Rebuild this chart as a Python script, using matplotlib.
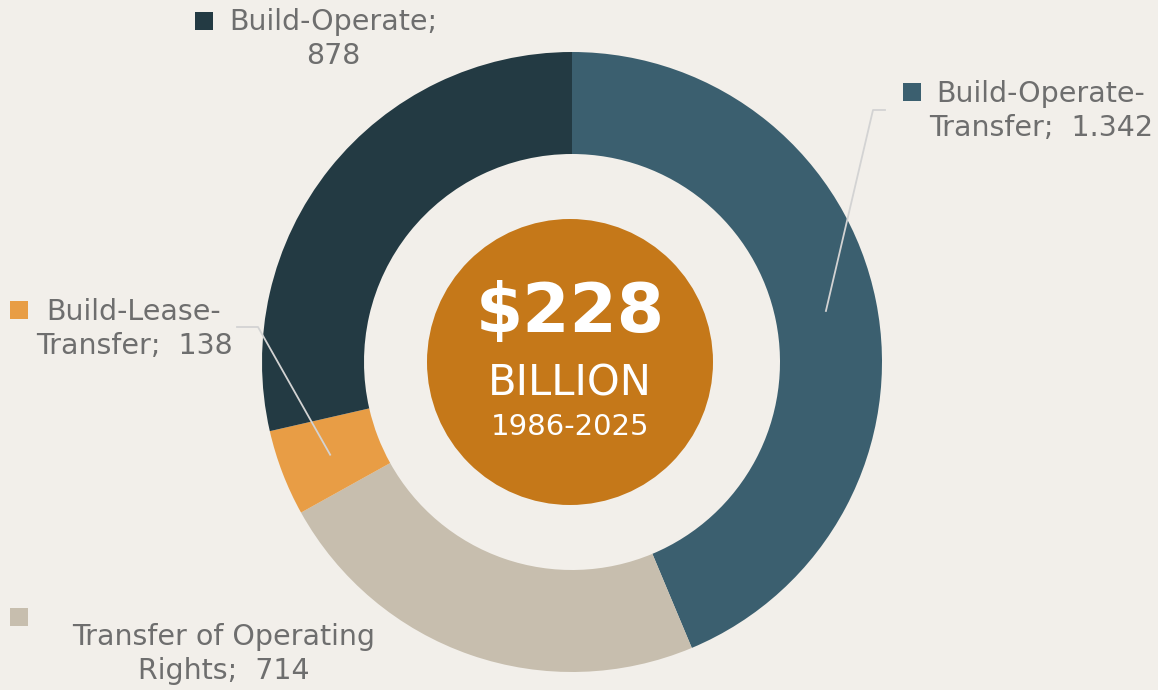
import numpy as np
import matplotlib.pyplot as plt

# Dados do gráfico
categorias = ["Build-Operate-Transfer", "Transfer of Operating Rights",
              "Build-Lease-Transfer", "Build-Operate"]
valores = [1342, 714, 138, 878]
rotulos = ["Build-Operate-\nTransfer;  1.342", "Transfer of Operating\nRights;  714",
           "Build-Lease-\nTransfer;  138", "Build-Operate;\n878"]
cores = ["#3B5F6F", "#C7BEAE", "#E89D45", "#233A43"]

fundo = "#F2EFEA"
cinza = "#6E6E6E"
plt.rcParams['font.family'] = ['DejaVu Sans']

fig = plt.figure(figsize=(11.58, 6.9), dpi=100, facecolor=fundo)
ax = fig.add_axes([0, 0, 1, 1])
ax.set_facecolor(fundo)

cx, cy = 572, 362
r_ext, r_int = 310, 208
wedges, _ = ax.pie(valores, colors=cores, startangle=90, counterclock=False,
                   radius=r_ext, center=(cx, -cy),
                   wedgeprops=dict(width=r_ext - r_int, linewidth=0))

# círculo central
ax.add_patch(plt.Circle((cx - 2, -cy), 143, color="#C57819", lw=0))
ax.text(cx - 2, -313, "$228", ha="center", va="center", color="white",
        fontsize=49, fontweight="bold")
ax.text(cx - 2, -383, "BILLION", ha="center", va="center", color="white", fontsize=30)
ax.text(cx - 2, -427, "1986-2025", ha="center", va="center", color="white", fontsize=21)

# posições dos rótulos (layout)
pos_texto = [(1041, -111), (224, -654), (134, -329), (333, -39)]
pos_marca = [(912, -92), (19, -617), (19, -310), (204, -21)]
for w, txt, (tx, ty), (mx, my), c in zip(wedges, rotulos, pos_texto, pos_marca, cores):
    ax.text(tx, ty, txt, ha="center", va="center", color=cinza, fontsize=20.5,
            linespacing=1.3, multialignment="center")
    ax.scatter([mx], [my], marker="s", s=150, color=c, lw=0)

# linhas de chamada
def ponto_meio(w):
    ang = np.deg2rad((w.theta1 + w.theta2) / 2)
    rm = (r_ext + r_int) / 2
    return cx + rm * np.cos(ang), -cy + rm * np.sin(ang)

x0, y0 = ponto_meio(wedges[0])
ax.plot([x0, 873, 885], [y0, -110, -110], color="#D3D3D3", lw=1.3)
x2, y2 = ponto_meio(wedges[2])
ax.plot([x2, 258, 237], [y2, -327, -327], color="#D3D3D3", lw=1.3)

ax.set_xlim(0, 1158)
ax.set_ylim(-690, 0)
ax.set_aspect("equal")
ax.axis("off")

plt.savefig("out.png", dpi=100, facecolor=fundo)
